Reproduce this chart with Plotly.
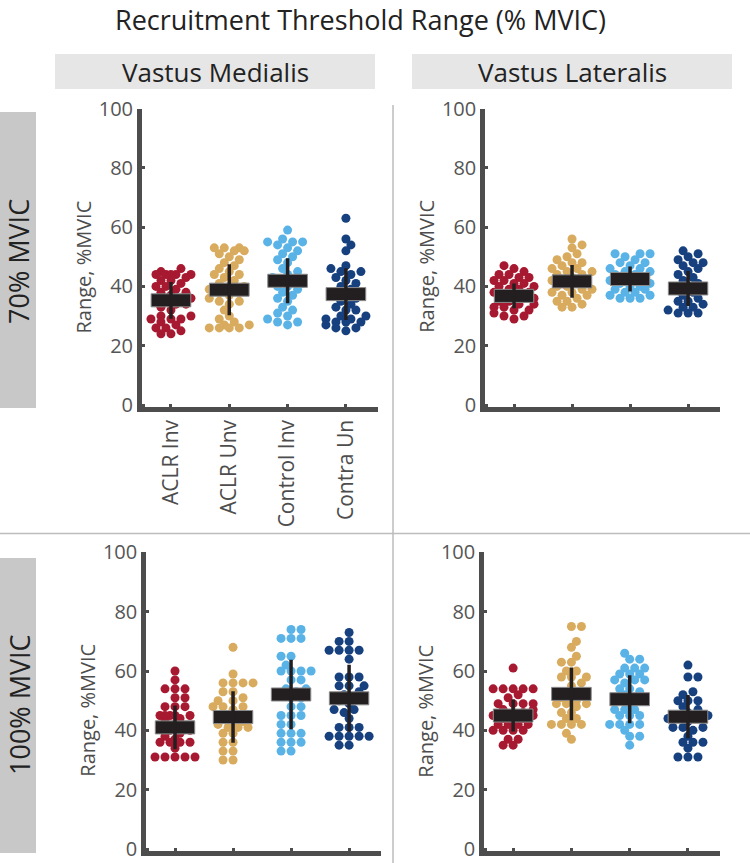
import math
import plotly.graph_objects as go

# ---------------- data ----------------
groups = ["ACLR Inv", "ACLR Unv", "Control Inv", "Contra Un"]
colors = ["#a71930", "#d8ab5e", "#5ab3e6", "#17407f"]
y_ticks = [0, 20, 40, 60, 80, 100]

vm70_aclr_inv = [46, 45, 44, 44, 44, 44, 44, 43, 42, 42, 41, 40, 40, 39, 38, 38, 37, 36, 36, 35, 35, 34, 34, 33, 32, 30, 30, 29, 29, 29, 28, 27, 26, 26, 25, 24, 24]
vm70_aclr_unv = [53, 53, 53, 52, 52, 51, 50, 49, 48, 47, 46, 45, 44, 44, 43, 42, 41, 40, 40, 39, 38, 38, 37, 36, 35, 35, 34, 32, 30, 29, 28, 27, 27, 26, 26, 26, 26]
vm70_ctrl_inv = [59, 56, 55, 55, 55, 54, 53, 52, 51, 50, 49, 48, 46, 45, 44, 43, 42, 42, 41, 40, 40, 39, 38, 37, 36, 35, 33, 32, 31, 30, 29, 28, 28, 27]
vm70_contra_un = [63, 56, 54, 52, 47, 46, 45, 45, 44, 43, 42, 41, 40, 39, 38, 37, 36, 35, 34, 33, 32, 32, 30, 30, 29, 29, 28, 28, 28, 27, 26, 26, 25]
vm70_mean = [35.3, 38.9, 41.9, 37.4]
vm70_sd = [6.2, 8.6, 7.6, 8.7]

vl70_aclr_inv = [47, 46, 45, 44, 44, 43, 43, 42, 42, 41, 41, 40, 40, 39, 39, 38, 38, 37, 37, 36, 36, 35, 35, 34, 34, 33, 33, 32, 32, 31, 30, 30, 29]
vl70_aclr_unv = [56, 54, 53, 51, 50, 49, 48, 48, 47, 46, 46, 45, 45, 44, 44, 43, 42, 42, 41, 41, 40, 40, 39, 39, 38, 38, 37, 37, 36, 35, 35, 34, 33, 33]
vl70_ctrl_inv = [51, 51, 51, 50, 49, 48, 48, 47, 46, 46, 45, 45, 44, 44, 43, 43, 42, 42, 41, 41, 40, 40, 39, 39, 38, 38, 37, 37, 36, 36, 36]
vl70_contra_un = [52, 51, 50, 49, 48, 48, 47, 46, 45, 44, 43, 42, 41, 40, 39, 38, 37, 36, 35, 35, 34, 33, 33, 32, 31, 31, 31]
vl70_mean = [36.8, 41.7, 42.5, 39.3]
vl70_sd = [4.2, 5.5, 4.2, 5.9]

vm100_aclr_inv = [60, 57, 54, 54, 54, 51, 51, 48, 48, 48, 45, 45, 45, 45, 45, 44, 43, 42, 41, 40, 40, 39, 38, 37, 36, 36, 36, 36, 34, 31, 31, 31, 31, 31]
vm100_aclr_unv = [68, 59, 56, 56, 56, 56, 53, 53, 51, 50, 50, 48, 48, 48, 47, 45, 45, 45, 44, 43, 42, 42, 41, 41, 41, 39, 39, 36, 36, 33, 33, 30, 30]
vm100_ctrl_inv = [74, 74, 71, 71, 71, 65, 65, 62, 60, 60, 60, 60, 57, 57, 54, 54, 53, 52, 51, 51, 48, 48, 45, 45, 45, 42, 42, 39, 39, 39, 36, 36, 36, 33, 33]
vm100_contra_un = [73, 70, 70, 67, 67, 67, 67, 64, 58, 58, 58, 55, 55, 55, 53, 52, 51, 50, 49, 47, 47, 46, 44, 41, 41, 41, 38, 38, 38, 38, 38, 35, 35]
vm100_mean = [41.0, 44.5, 52.1, 50.8]
vm100_sd = [7.4, 8.7, 11.7, 11.3]

vl100_aclr_inv = [61, 54, 54, 54, 54, 54, 52, 51, 49, 49, 49, 49, 47, 47, 46, 46, 45, 45, 44, 44, 43, 42, 42, 42, 42, 40, 40, 40, 40, 37, 37, 35, 35]
vl100_aclr_unv = [75, 75, 70, 68, 65, 63, 63, 60, 60, 58, 58, 58, 56, 55, 53, 53, 52, 51, 50, 49, 49, 49, 48, 46, 46, 44, 44, 42, 42, 42, 42, 39, 37]
vl100_ctrl_inv = [66, 64, 64, 61, 61, 61, 59, 59, 59, 57, 57, 57, 56, 54, 54, 53, 52, 51, 50, 49, 47, 47, 47, 45, 45, 45, 42, 42, 42, 42, 40, 38, 38, 35]
vl100_contra_un = [62, 58, 58, 53, 52, 50, 50, 50, 48, 47, 46, 45, 44, 44, 44, 43, 41, 41, 41, 40, 38, 36, 36, 36, 34, 31, 31, 31]
vl100_mean = [45.0, 52.3, 50.5, 44.6]
vl100_sd = [5.4, 8.9, 8.1, 7.3]

# ---------------- layout geometry (pixels) ----------------
W, H = 750, 863
X_RANGE = [0.5, 4.55]
Y_RANGE = [-0.6, 100]

panels = [
    dict(ax="", left=141.8, right=378, y0=405, y100=108.5, labels=True,
         series=[vm70_aclr_inv, vm70_aclr_unv, vm70_ctrl_inv, vm70_contra_un], mean=vm70_mean, sd=vm70_sd),
    dict(ax="2", left=485, right=720, y0=405, y100=108.5, labels=False,
         series=[vl70_aclr_inv, vl70_aclr_unv, vl70_ctrl_inv, vl70_contra_un], mean=vl70_mean, sd=vl70_sd),
    dict(ax="3", left=146, right=381, y0=849, y100=552.4, labels=False,
         series=[vm100_aclr_inv, vm100_aclr_unv, vm100_ctrl_inv, vm100_contra_un], mean=vm100_mean, sd=vm100_sd),
    dict(ax="4", left=484, right=720, y0=849, y100=552.4, labels=False,
         series=[vl100_aclr_inv, vl100_aclr_unv, vl100_ctrl_inv, vl100_contra_un], mean=vl100_mean, sd=vl100_sd),
]


def swarm_offsets(vals, xppu, yppu, diam=9.0, step=5.0, maxoff=22.0):
    """Deterministic beeswarm layout: horizontal offsets (data units) so points don't pile up."""
    order = sorted(range(len(vals)), key=lambda i: vals[i])
    cands = [0.0]
    k = 1
    while k * step <= maxoff:
        cands += [k * step, -k * step]
        k += 1
    placed = []
    offs = [0.0] * len(vals)
    for n, i in enumerate(order):
        yp = vals[i] * yppu
        best, bestd = 0.0, -1.0
        cl = cands if n % 2 == 0 else [-c for c in cands]
        for c in cl:
            d = min((math.hypot(c - px, yp - py) for px, py in placed), default=1e9)
            if d >= diam * 0.8:
                best = c
                break
            if d > bestd:
                bestd, best = d, c
        placed.append((best, yp))
        offs[i] = best / xppu
    return offs


fig = go.Figure()
FONT = "Open Sans, sans-serif"
AX_COL = "#4d4d4d"
BAR_COL = "#231f20"
BAR_H = 4.4     # bar thickness (data units)
BAR_HW = 0.34   # bar half width (category units)

for p in panels:
    xa = "x" + p["ax"]
    ya = "y" + p["ax"]
    xppu = (p["right"] - p["left"]) / (X_RANGE[1] - X_RANGE[0])
    yppu = (p["y0"] - p["y100"]) / 100.0
    for gi, vals in enumerate(p["series"]):
        offs = swarm_offsets(vals, xppu, yppu)
        fig.add_trace(go.Scatter(
            x=[gi + 1 + o for o in offs], y=vals, mode="markers",
            marker=dict(size=9, color=colors[gi], line=dict(width=0)),
            xaxis=xa, yaxis=ya, showlegend=False, hoverinfo="y"))
    # mean bars as filled rectangles (scatter so they sit above the points)
    bx, by = [], []
    for gi, m in enumerate(p["mean"]):
        c = gi + 1
        bx += [c - BAR_HW, c + BAR_HW, c + BAR_HW, c - BAR_HW, c - BAR_HW, None]
        by += [m - BAR_H / 2, m - BAR_H / 2, m + BAR_H / 2, m + BAR_H / 2, m - BAR_H / 2, None]
    fig.add_trace(go.Scatter(x=bx, y=by, mode="lines", fill="toself", fillcolor=BAR_COL,
                             line=dict(color="#8c8c8c", width=1),
                             xaxis=xa, yaxis=ya, showlegend=False, hoverinfo="skip"))
    ex, ey = [], []
    for gi, (m, s) in enumerate(zip(p["mean"], p["sd"])):
        ex += [gi + 1, gi + 1, None]
        ey += [m - s, m + s, None]
    fig.add_trace(go.Scatter(x=ex, y=ey, mode="lines",
                             line=dict(color=BAR_COL, width=3.5),
                             xaxis=xa, yaxis=ya, showlegend=False, hoverinfo="skip"))

    bottom_px = p["y0"] + (0 - Y_RANGE[0]) * yppu
    top_px = p["y100"]
    xkey = "xaxis" + p["ax"]
    ykey = "yaxis" + p["ax"]
    fig.update_layout(**{
        xkey: dict(domain=[p["left"] / W, p["right"] / W], range=X_RANGE, anchor=ya,
                   showline=True, linecolor=AX_COL, linewidth=4.5, showgrid=False, zeroline=False,
                   ticks="inside", ticklen=3, tickwidth=3, tickcolor=AX_COL,
                   tickvals=[1, 2, 3, 4], ticktext=groups, showticklabels=p["labels"],
                   tickangle=-90, tickfont=dict(family=FONT, size=21, color="#4d4d4d"),
                   automargin=False, fixedrange=True),
        ykey: dict(domain=[1 - bottom_px / H, 1 - top_px / H], range=Y_RANGE, anchor=xa,
                   showline=True, linecolor=AX_COL, linewidth=4.5, showgrid=False, zeroline=False,
                   ticks="inside", ticklen=3, tickwidth=3, tickcolor=AX_COL,
                   tickvals=y_ticks, tickfont=dict(family=FONT, size=20, color="#555555"),
                   automargin=False, fixedrange=True),
    })
    # y-axis title
    fig.add_annotation(text="Range, %MVIC", xref="paper", yref="paper",
                       x=(p["left"] - 58) / W, y=1 - ((p["y0"] + p["y100"]) / 2 + 10) / H,
                       textangle=-90, showarrow=False, xanchor="center", yanchor="middle",
                       font=dict(family=FONT, size=20, color="#4d4d4d"))

shapes = [
    dict(type="rect", xref="paper", yref="paper", x0=55 / W, x1=375 / W, y0=1 - 89 / H, y1=1 - 54 / H,
         fillcolor="#e6e6e6", line=dict(width=0), layer="below"),
    dict(type="rect", xref="paper", yref="paper", x0=412 / W, x1=732 / W, y0=1 - 89 / H, y1=1 - 54 / H,
         fillcolor="#e6e6e6", line=dict(width=0), layer="below"),
    dict(type="rect", xref="paper", yref="paper", x0=0, x1=36 / W, y0=1 - 408 / H, y1=1 - 112 / H,
         fillcolor="#c8c8c8", line=dict(width=0), layer="below"),
    dict(type="rect", xref="paper", yref="paper", x0=0, x1=36 / W, y0=1 - 853 / H, y1=1 - 558 / H,
         fillcolor="#c8c8c8", line=dict(width=0), layer="below"),
    dict(type="line", xref="paper", yref="paper", x0=393 / W, x1=393 / W, y0=0, y1=1 - 105 / H,
         line=dict(color="#9a9a9a", width=1), layer="below"),
    dict(type="line", xref="paper", yref="paper", x0=0, x1=1, y0=1 - 533.5 / H, y1=1 - 533.5 / H,
         line=dict(color="#bdbdbd", width=1.5), layer="below"),
]

annotations_txt = [
    dict(text="Recruitment Threshold Range (% MVIC)", x=360 / W, y=1 - 19 / H, size=27, angle=0, color="#222222"),
    dict(text="Vastus Medialis", x=215 / W, y=1 - 72 / H, size=26, angle=0, color="#222222"),
    dict(text="Vastus Lateralis", x=572 / W, y=1 - 72 / H, size=26, angle=0, color="#222222"),
    dict(text="70% MVIC", x=19 / W, y=1 - 262 / H, size=27, angle=-90, color="#222222"),
    dict(text="100% MVIC", x=19 / W, y=1 - 705 / H, size=27, angle=-90, color="#222222"),
]
for a in annotations_txt:
    fig.add_annotation(text=a["text"], xref="paper", yref="paper", x=a["x"], y=a["y"],
                       textangle=a["angle"], showarrow=False, xanchor="center", yanchor="middle",
                       font=dict(family=FONT, size=a["size"], color=a["color"]))

fig.update_layout(width=W, height=H, margin=dict(l=0, r=0, t=0, b=0, autoexpand=False), autosize=False,
                  paper_bgcolor="white", plot_bgcolor="rgba(0,0,0,0)",
                  shapes=shapes, showlegend=False, template="none")

fig.write_html("out.html", config={"displayModeBar": False},
               post_script="document.body.style.margin='0';")
